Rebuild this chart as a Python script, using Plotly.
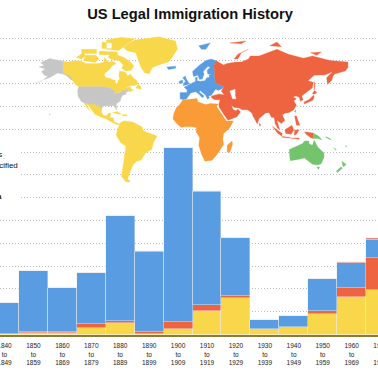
import math
import plotly.graph_objects as go

# ---- data -------------------------------------------------------------
decades = ["1840", "1850", "1860", "1870", "1880", "1890", "1900", "1910", "1920", "1930", "1940", "1950", "1960", "1970"]
decade_ends = ["1849", "1859", "1869", "1879", "1889", "1899", "1909", "1919", "1929", "1939", "1949", "1959", "1969", "1979"]
# millions of immigrants per region
americas = [0.02, 0.05, 0.07, 0.30, 0.52, 0.03, 0.24, 1.04, 1.59, 0.24, 0.32, 0.90, 1.66, 1.95]
asia     = [0.00, 0.04, 0.05, 0.15, 0.08, 0.06, 0.29, 0.26, 0.10, 0.02, 0.01, 0.13, 0.37, 1.39]
europe   = [1.35, 2.68, 1.91, 2.24, 4.58, 3.55, 7.63, 4.97, 2.53, 0.39, 0.48, 1.39, 1.12, 0.80]
other    = [0.00, 0.03, 0.02, 0.02, 0.02, 0.01, 0.04, 0.03, 0.03, 0.00, 0.00, 0.01, 0.02, 0.08]
gridlines = [1, 2, 3, 4, 5, 6, 7, 8, 9, 10, 11, 12, 13]

title_text = "US Legal Immigration History"
legend_labels = ["Americas", "Unspecified", "Data"]

# map outlines (lon, lat)
canada_latin = [
    [(-141,69.6),(-135,69),(-128,70),(-120,69.5),(-115,68),(-108,68),(-100,68),(-95,69),(-94,72),(-90,69),(-85,69.5),(-81,68),(-86,66),(-88,64),(-93,61),(-94.5,59),(-92.5,57),(-88,56.5),(-85,55.3),(-82,55),(-82,52.9),(-80,51.3),(-79,52),(-79,54.5),(-77,56),(-78,58.5),(-77.5,62.3),(-73,62),(-70,61),(-68,58.5),(-65,60),(-62,57),(-58,54.8),(-56,52),(-60,50.2),(-66,50),(-70,47.5),(-65,49),(-64.5,47),(-61,46),(-66,44),(-67,45),(-69,47.3),(-71,45),(-75,45),(-79,43.5),(-83,42),(-82.5,45),(-88,48),(-95,49),(-123,49),(-125,50),(-128,52),(-130,54.5),(-133,57),(-137,59),(-141,60)],
    [(-82,74),(-72,72),(-66,69.5),(-61,66.5),(-64,63),(-70,62.5),(-75,64.5),(-73,67),(-78,70),(-86,70.5),(-90,72),(-88,74)],
    [(-118,70),(-105,68.7),(-100,71),(-104,73.5),(-115,73.5)],
    [(-126,72),(-118,75),(-115,73),(-120,71)],
    [(-92,77),(-78,76.3),(-68,80),(-60,82.5),(-75,83.3),(-92,82)],
    [(-100,76),(-80,75.5),(-79,73.7),(-100,73.7)],
    [(-120,77),(-103,77),(-103,74.5),(-120,74.5)],
    [(-97,81),(-86,80.5),(-86,77.5),(-97,77.5)],
    [(-59,47.7),(-53,46.7),(-53,49),(-56,51.5)],
    [(-73,78),(-66,80.5),(-60,82),(-33,83.5),(-14,81.5),(-12,77),(-18,72),(-22,69),(-33,67),(-40,65),(-44,60),(-49,61),(-53,65),(-55,69),(-59,75),(-68,76)],
    [(-117,32.5),(-115,32.5),(-111,31.3),(-106,31.7),(-103,29),(-101,29.7),(-97,26),(-97.5,22),(-95,18.5),(-91,18.5),(-90.5,21),(-87,21.5),(-88,16),(-84,15.8),(-83.5,11),(-80,9),(-77.5,8.5),(-75,11),(-71.5,12.3),(-62,10.5),(-52,5),(-50,0),(-44,-2.5),(-35,-6),(-39,-14),(-41,-22),(-48,-26),(-53,-34),(-58,-35),(-62,-39),(-65,-45),(-68,-52),(-65,-55),(-70,-55),(-75,-50),(-73,-38),(-70,-18),(-76,-14),(-81,-5),(-80,1),(-77,8),(-80,7.5),(-85,10),(-92,14.5),(-97,16),(-105,20),(-109,26),(-112.5,30),(-114.5,31),(-110,23),(-115,29)],
    [(-85,22),(-80,23),(-75,20.2),(-78,20)],
    [(-74,19.5),(-69,19.5),(-68.5,18.3),(-74,18)],
]
usa = [
    [(-123,49),(-95,49),(-88,48),(-84.5,46.5),(-82.5,45),(-83,42),(-79,43),(-76,44),(-75,45),(-71,45),(-69,47.3),(-67,45),(-70,43.5),(-70,41.7),(-74,40.5),(-76,37),(-76,35),(-81,31.5),(-80,26),(-81,25),(-83,29),(-85,29.7),(-90,29.2),(-94,29.5),(-97,27.5),(-97,26),(-101,29.7),(-103,29),(-106,31.7),(-111,31.3),(-115,32.5),(-117,32.5),(-120.5,34.5),(-124,40),(-124.5,46)],
    [(-141,69.6),(-148,70.4),(-156,71.3),(-166,68.5),(-162,66.5),(-168,65.6),(-161,64),(-165,62),(-162,59),(-158,58.5),(-163,55),(-155,57.5),(-151,59.5),(-147,60.8),(-141,60),(-137,59),(-133,56),(-131,55),(-130,55.5),(-134,59),(-141,60)],
    [(-156,21),(-154.8,19.6),(-156,19)],
    [(-164,54.5),(-172,52.3),(-172,52.9)],
]
europe_map = [
    [(-9,37),(-9,43.5),(-1.5,43.5),(-1,46),(-4.5,48.5),(2,51),(4,52),(8.5,54),(8,57),(10.5,57.5),(10,54.5),(14,54),(19,54.5),(21,57),(24,57.5),(23.5,59.5),(28,59.7),(22,60),(21.5,63),(25,65.5),(22,65.8),(17,62),(18,60),(16,56),(13,55.5),(11,59),(6,58),(5,62),(13,67),(20,70),(26,71),(31,70),(29,66),(30,62),(30,55),(32,52),(40,49.5),(38,47),(34,45.5),(31,46.5),(28,43),(26,40.5),(23,40),(24,38),(22,36.5),(19.5,41),(13.5,45.5),(12.5,44),(18,40),(16,38),(12,42),(8.5,44.3),(3,43),(0,39),(-2,36.7),(-5.5,36)],
    [(-5.5,50),(1.5,51.5),(-2,56),(-3,58.5),(-6,57),(-3,54),(-5,52)],
    [(-10,52),(-6,52.5),(-6,55),(-10,54)],
    [(-24,65.5),(-14,66),(-14,64.5),(-22,63.5)],
    [(12,79),(25,80.5),(20,77),(15,77)],
]
asia_map = [
    [(31,70),(40,67),(44,68),(54,69),(60,69),(68,71),(70,73),(80,73),(100,77),(113,74),(130,71.5),(140,73),(160,70),(180,69),(180,65),(177,62.5),(165,60),(163,58),(162,55),(157,51),(156,57),(163,62),(155,59.5),(142,59),(135,54.5),(141,53),(140,48),(132,43),(128,40),(129.5,36),(126.5,34.5),(125,39),(121,40),(118,39),(122,37),(119,35),(122,30),(119,25),(114,22),(109,21),(106,19),(109,13),(105,9),(100,13),(103,2),(101,3),(98,9),(97,16),(94,16),(91,22),(87,21),(80,15),(78,8.5),(73,18),(72,21),(67,25),(61,25),(57,27),(52,27.5),(48.5,30),(51,25),(54,24),(56,26),(59,22.5),(55,17),(45,13),(42,17),(35,28),(34.5,31),(36,36),(30,36),(26,38.5),(26.5,40),(35,42),(41,41),(37.5,44.5),(39,47),(40,49.5),(32,52),(30,55),(30,62),(29,66)],
    [(130.5,31.5),(131,34),(136,36),(140,40),(141.5,41),(142,39),(140.5,35.5),(136,33.5)],
    [(140,42),(142,45.5),(145,43.5),(143,42)],
    [(142,46),(142,54),(143,50)],
    [(120,23),(121,25),(121,22)],
    [(80,9.5),(82,7),(80.5,6)],
    [(120,18),(122,18),(124,12),(126,7),(122,7),(121,13)],
    [(95,5.5),(100,2),(106,-3),(105.5,-6),(101,-3)],
    [(105.5,-6.5),(114.5,-7.5),(114.5,-8.5),(106,-7.5)],
    [(109,1.5),(117,7),(119,1),(116,-4),(110,-3)],
    [(119.5,-5),(120,1),(125,1.5),(122,-4)],
    [(131,-1),(141,-2.5),(141,-9),(138,-8),(133,-4)],
    [(115,-8.5),(125,-8.5),(125,-10),(116,-9.3)],
    [(52,71),(56,74),(68,77),(60,75),(56,71)],
    [(92,79),(100,81),(105,78.5)],
    [(138,75),(150,75.5),(145,73.5)],
    [(47,80.5),(65,81.5),(60,80)],
]
caspian = [[(47,45),(53,46.5),(53,40),(54,37),(50,37),(49,40)]]
africa_map = [
    [(-6,35.8),(10,37.3),(11,33.5),(20,31),(25,32),(34,31.5),(32,29),(37,21),(43,12),(51,12),(47,4),(40,-3),(39,-10),(40,-16),(35,-24),(33,-27),(27,-34),(19,-35),(15,-27),(12,-17),(13,-8),(9,-1),(9.5,4),(5,5),(-4,5),(-8,4.5),(-13,9),(-17,14.7),(-16,21),(-13,27.5),(-10,30)],
    [(49.5,-12),(50,-16),(47,-25),(44,-25),(44,-17)],
]
oceania_map = [
    [(114,-22),(122,-18),(129,-15),(131,-12),(136,-12),(136,-15),(140,-17),(142,-11),(146,-19),(153,-26),(153,-31),(150,-37.5),(146,-39),(140,-38),(136,-35),(131,-31.5),(124,-33),(115,-34.5),(114,-26)],
    [(145,-41),(148,-41),(147,-43.5)],
    [(173,-35),(178,-38),(175,-41),(174,-39)],
    [(172,-41),(174,-42),(168,-46.5),(167,-45)],
    [(141,-2.5),(147,-6),(150.5,-10.5),(146,-9),(141,-9)],
    [(156,-7),(161,-10),(160,-10.5),(155,-7.5)],
    [(164,-20),(167,-22),(166,-22.5)],
    [(177,-17.5),(179,-18),(178,-19)],
]

# ---- style ------------------------------------------------------------
C_YELLOW = "#F8D84A"
C_RED = "#EE6440"
C_BLUE = "#5A9CE2"
C_ORANGE = "#F99B36"
C_GREEN = "#74C46E"
C_GREY = "#C6C6C6"
WIDTH, HEIGHT = 430, 370


def miller(lat):
    r = math.radians(lat)
    return math.degrees(1.25 * math.log(math.tan(math.pi / 4 + 0.4 * r)))


def outlines(polys):
    xs, ys = [], []
    for poly in polys:
        closed = list(poly) + [poly[0]]
        xs += [p[0] for p in closed] + [None]
        ys += [miller(p[1]) for p in closed] + [None]
    return xs, ys


categories = [f"{a}<br>to<br>{b}" for a, b in zip(decades, decade_ends)]
fig = go.Figure()
for name, vals, col in [("Americas", americas, C_YELLOW), ("Asia", asia, C_RED),
                        ("Europe", europe, C_BLUE), ("Other", other, "#E58A80")]:
    fig.add_trace(go.Bar(x=categories, y=vals, name=name, marker=dict(color=col, line=dict(color="rgba(235,235,235,0.75)", width=0.6)), hoverinfo="skip", showlegend=False))

for polys, col in [(canada_latin, C_YELLOW), (usa, C_GREY), (europe_map, C_BLUE), (asia_map, C_RED),
                   (caspian, "#FFFFFF"), (africa_map, C_ORANGE), (oceania_map, C_GREEN)]:
    mx, my = outlines(polys)
    fig.add_trace(go.Scatter(x=mx, y=my, mode="lines", fill="toself", fillcolor=col, line=dict(color=col, width=0.3),
                             xaxis="x2", yaxis="y2", hoverinfo="skip", showlegend=False))

PX_BAR = 28.93
PX_START = 4.5
PX_UNIT = 22.8
BASE = 334.5
LON_PX = 0.888
LAT_PX = 0.83
EQ = 131
lon0 = -17 - 173 / LON_PX

fig.update_layout(
    width=WIDTH, height=HEIGHT, margin=dict(l=0, r=0, t=0, b=0, autoexpand=False), barmode="stack", bargap=0,
    paper_bgcolor="white", plot_bgcolor="rgba(0,0,0,0)", showlegend=False, autosize=False,
    font=dict(family="Liberation Sans", color="#111111"),
    xaxis=dict(type="category", automargin=False, domain=[0, 1], range=[-PX_START / PX_BAR, (WIDTH - PX_START) / PX_BAR], anchor="y",
               showline=True, linecolor="#8C7B38", linewidth=2, showgrid=False, ticks="outside", ticklen=4,
               tickcolor="rgba(0,0,0,0)", tickfont=dict(size=6.5, color="#222222"), tickangle=0, tickmode="linear", dtick=1),
    yaxis=dict(automargin=False, domain=[(HEIGHT - BASE) / HEIGHT, 1], range=[0, BASE / PX_UNIT], tickmode="array", tickvals=gridlines,
               showticklabels=False, ticks="", showgrid=True, griddash="1px,2px", gridcolor="#BEBEBE", gridwidth=1,
               zeroline=False, showline=False),
    xaxis2=dict(automargin=False, domain=[0, 1], range=[lon0, lon0 + WIDTH / LON_PX], visible=False, anchor="y2"),
    yaxis2=dict(automargin=False, domain=[0, 1], range=[-(HEIGHT - EQ) / LAT_PX, EQ / LAT_PX], visible=False, anchor="x2"),
    title=dict(text=title_text, x=190 / WIDTH, xanchor="center", y=1 - 14 / HEIGHT, yanchor="middle",
               font=dict(family="Liberation Sans", size=14.7, color="#111111", weight="bold")),
    shapes=[dict(type="rect", xref="paper", yref="paper", x0=0, x1=20.5 / WIDTH, y0=1 - 200 / HEIGHT, y1=1 - 150 / HEIGHT,
                 fillcolor="white", line=dict(width=0), layer="above")],
    annotations=[
        dict(text=legend_labels[0], xref="paper", yref="paper", x=4 / WIDTH, y=1 - 155 / HEIGHT, xanchor="right", yanchor="middle", showarrow=False, font=dict(size=8, color="#111111")),
        dict(text=legend_labels[1], xref="paper", yref="paper", x=20 / WIDTH, y=1 - 165 / HEIGHT, xanchor="right", yanchor="middle", showarrow=False, font=dict(size=8, color="#111111")),
        dict(text="<b>" + legend_labels[2] + "</b>", xref="paper", yref="paper", x=4 / WIDTH, y=1 - 196.5 / HEIGHT, xanchor="right", yanchor="middle", showarrow=False, font=dict(size=8, color="#111111")),
    ],
)

fig.write_html("out.html", config=dict(displayModeBar=False),
               post_script="document.documentElement.style.overflow='hidden';document.body.style.overflow='hidden';document.body.style.margin='0';")
